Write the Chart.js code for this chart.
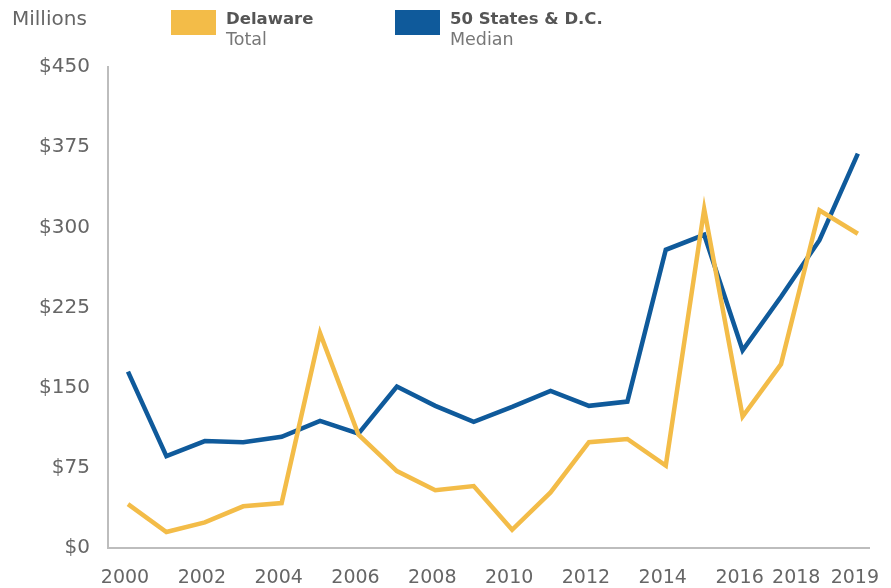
<!DOCTYPE html>
<html>
<head>
<meta charset="utf-8">
<script src="https://cdn.jsdelivr.net/npm/chart.js@4/dist/chart.umd.min.js"></script>
<style>
  html, body { margin: 0; padding: 0; background: #fff; }
  .wrap { position: relative; width: 891px; height: 588px; font-family: 'DejaVu Sans', sans-serif; }
  canvas { position: absolute; left: 0; top: 0; }
  .unit { position: absolute; left: 12px; top: 6px; font-size: 20px; color: #666; }
  .key { position: absolute; top: 10px; }
  .key .box { position: absolute; left: 0; top: 0; width: 45px; height: 25px; }
  .key .name { position: absolute; left: 55px; top: -1px; font-size: 16.5px; font-weight: bold; color: #555; white-space: nowrap; }
  .key .sub { position: absolute; left: 55px; top: 19px; font-size: 17.5px; color: #777; white-space: nowrap; }
</style>
</head>
<body>
<div class="wrap">
  <canvas id="chart" width="891" height="588"></canvas>
  <div class="unit">Millions</div>
  <div class="key" style="left:171px"><div class="box" style="background:#F3BC48"></div><div class="name">Delaware</div><div class="sub">Total</div></div>
  <div class="key" style="left:395px"><div class="box" style="background:#0F5A9B"></div><div class="name">50 States &amp; D.C.</div><div class="sub">Median</div></div>
</div>
<script>
// Data (millions of dollars)
const years = [2000, 2001, 2002, 2003, 2004, 2005, 2006, 2007, 2008, 2009,
               2010, 2011, 2012, 2013, 2014, 2015, 2016, 2017, 2018, 2019];
const delawareTotal = [41, 15, 24, 39, 42, 201, 106, 72, 54, 58,
                       17, 52, 99, 102, 77, 317, 123, 172, 316, 294];
const statesMedian = [165, 86, 100, 99, 104, 119, 107, 151, 133, 118,
                      132, 147, 133, 137, 279, 293, 185, 235, 288, 369];
const xTickYears = [2000, 2002, 2004, 2006, 2008, 2010, 2012, 2014, 2016, 2018, 2019];
const yTicks = [0, 75, 150, 225, 300, 375, 450];

const colors = {
  yellow: '#F3BC48',
  blue: '#0F5A9B',
  text: '#666',
  axis: '#bdbdbd'
};
const fontFamily = "'DejaVu Sans', sans-serif";

function points(values) {
  return years.map((yr, i) => ({ x: yr, y: values[i] }));
}

// Draw the year labels, pushing a label to the left when it would run into the next one
const yearLabels = {
  id: 'yearLabels',
  afterDraw(chart) {
    const ctx = chart.ctx;
    const xs = chart.scales.x;
    const y = chart.chartArea.bottom + 30;
    ctx.save();
    ctx.font = '19px ' + fontFamily;
    ctx.fillStyle = colors.text;
    ctx.textBaseline = 'middle';
    xTickYears.forEach((yr, i) => {
      const px = xs.getPixelForValue(yr);
      const w = ctx.measureText(String(yr)).width;
      const next = xTickYears[i + 1];
      if (next !== undefined && xs.getPixelForValue(next) - px < w) {
        ctx.textAlign = 'right';
        ctx.fillText(String(yr), px + 1, y);
      } else {
        ctx.textAlign = 'center';
        ctx.fillText(String(yr), px - 3, y);
      }
    });
    ctx.restore();
  }
};

new Chart(document.getElementById('chart'), {
  type: 'line',
  data: {
    datasets: [
      {
        label: 'Delaware Total',
        data: points(delawareTotal),
        borderColor: colors.yellow,
        borderWidth: 4.5,
        pointRadius: 0,
        tension: 0,
        fill: false
      },
      {
        label: '50 States & D.C. Median',
        data: points(statesMedian),
        borderColor: colors.blue,
        borderWidth: 4.5,
        pointRadius: 0,
        tension: 0,
        fill: false
      }
    ]
  },
  options: {
    responsive: false,
    animation: false,
    layout: { padding: { top: 67, right: 22, left: 0, bottom: 0 } },
    plugins: {
      legend: { display: false },
      tooltip: { enabled: false }
    },
    scales: {
      x: {
        type: 'linear',
        min: 1999.48,
        max: 2019.29,
        grid: { display: false, drawTicks: false },
        border: { display: true, color: colors.axis, width: 2 },
        ticks: { display: false },
        afterFit(scale) { scale.height = 40; }
      },
      y: {
        min: 0,
        max: 450,
        afterBuildTicks(scale) { scale.ticks = yTicks.map(v => ({ value: v })); },
        grid: { display: false, drawTicks: false },
        border: { display: true, color: colors.axis, width: 2 },
        ticks: {
          color: colors.text,
          padding: 18,
          font: { family: fontFamily, size: 20 },
          callback: v => '$' + v
        },
        afterFit(scale) { scale.width = 108; }
      }
    }
  },
  plugins: [yearLabels]
});
</script>
</body>
</html>
